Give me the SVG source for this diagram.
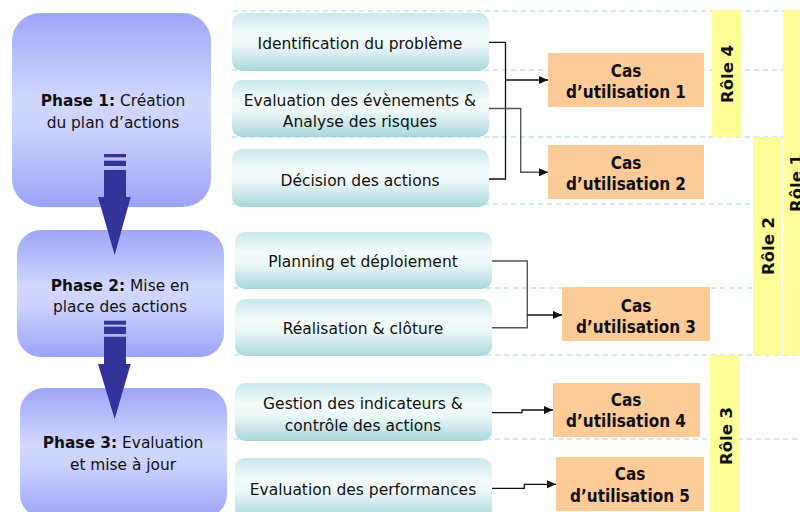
<svg xmlns="http://www.w3.org/2000/svg" width="800" height="512" viewBox="0 0 800 512">
<style>
.txt{font-family:"DejaVu Sans","Liberation Sans",sans-serif;fill:#111;text-anchor:middle;font-size:15.5px}
.ph{font-size:15.4px}
.b{font-weight:bold}
.cas{font-family:"DejaVu Sans Condensed","DejaVu Sans","Liberation Sans",sans-serif;font-stretch:condensed;font-weight:bold;fill:#111;text-anchor:middle;font-size:17px}
.role{font-family:"DejaVu Sans","Liberation Sans",sans-serif;font-weight:bold;fill:#111;text-anchor:middle;font-size:16.5px}
.lane{stroke:#a9d8de;stroke-width:1.2;stroke-dasharray:5,4;fill:none}
.step{fill:url(#teal)}
.phase{fill:url(#blue)}
.uc{fill:#fdcb98}
.bar{fill:#ffff99}
.con{stroke:#111;stroke-width:1.3;fill:none}
.con2{stroke:#555;stroke-width:1.4;fill:none}
.big{fill:#333399}
</style>
<defs>
<linearGradient id="blue" x1="0" y1="0" x2="0" y2="1">
<stop offset="0" stop-color="#9ea6f7"/>
<stop offset="0.45" stop-color="#d2d8fe"/>
<stop offset="0.6" stop-color="#ccd2fd"/>
<stop offset="1" stop-color="#9ba3f6"/>
</linearGradient>
<linearGradient id="teal" x1="0" y1="0" x2="0" y2="1">
<stop offset="0" stop-color="#cae8ea"/>
<stop offset="0.35" stop-color="#f3fafa"/>
<stop offset="0.55" stop-color="#eef8f8"/>
<stop offset="1" stop-color="#a9d7db"/>
</linearGradient>
<marker id="ah" markerWidth="9" markerHeight="8" refX="9" refY="4" orient="auto" markerUnits="userSpaceOnUse">
<path d="M0,0 L9,4 L0,8 z" fill="#111"/>
</marker>
</defs>
<rect width="800" height="512" fill="#fff"/>

<g id="lanes">
<line class="lane" x1="233" y1="11" x2="800" y2="11"/>
<line class="lane" x1="232" y1="70" x2="783" y2="70"/>
<line class="lane" x1="232" y1="137" x2="783" y2="137"/>
<line class="lane" x1="232" y1="204" x2="753" y2="204"/>
<line class="lane" x1="234" y1="288" x2="753" y2="288"/>
<line class="lane" x1="234" y1="355" x2="800" y2="355"/>
<line class="lane" x1="234" y1="439" x2="800" y2="439"/>
</g>

<g id="roles">
<g id="role4"><rect class="bar" x="712" y="10" width="29" height="127"/>
<text class="role" transform="translate(733,74) rotate(-90)">Rôle 4</text></g>
<g id="role1"><rect class="bar" x="783" y="10" width="30" height="345"/>
<text class="role" transform="translate(802,183) rotate(-90)">Rôle 1</text></g>
<g id="role2"><rect class="bar" x="753" y="137" width="28.5" height="218"/>
<text class="role" transform="translate(774,246) rotate(-90)">Rôle 2</text></g>
<g id="role3"><rect class="bar" x="710" y="355" width="29" height="162"/>
<text class="role" transform="translate(731.5,436) rotate(-90)">Rôle 3</text></g>
</g>

<g id="phase1"><rect class="phase" x="12" y="13" width="199" height="194" rx="28"/>
<text class="txt ph" x="113" y="106"><tspan class="b">Phase 1:</tspan> Création</text>
<text class="txt ph" x="113" y="128">du plan d’actions</text></g>
<g id="phase2"><rect class="phase" x="17" y="230" width="207" height="127" rx="24"/>
<text class="txt ph" x="120" y="291"><tspan class="b">Phase 2:</tspan> Mise en</text>
<text class="txt ph" x="120" y="312">place des actions</text></g>
<g id="phase3"><rect class="phase" x="20" y="388" width="207" height="130" rx="24"/>
<text class="txt ph" x="123" y="448"><tspan class="b">Phase 3:</tspan> Evaluation</text>
<text class="txt ph" x="123" y="470">et mise à jour</text></g>

<g id="arrow1">
<rect class="big" x="104" y="154" width="22" height="3.3"/>
<rect class="big" x="104" y="160.7" width="22" height="5.3"/>
<path class="big" d="M104,170 H126 V197 H130.7 L114.7,255 L98,197 H104 z"/>
</g>
<g id="arrow2">
<rect class="big" x="104" y="320.7" width="22" height="4"/>
<rect class="big" x="104" y="326.7" width="22" height="7.3"/>
<path class="big" d="M104,336.7 H126 V364 H130.7 L114.7,419 L98,364 H104 z"/>
</g>

<g id="step1"><rect class="step" x="232" y="13" width="257" height="58" rx="10"/>
<text class="txt" x="360" y="49">Identification du problème</text></g>
<g id="step2"><rect class="step" x="232" y="80" width="257" height="57" rx="10"/>
<text class="txt" x="360" y="106">Evaluation des évènements &amp;</text>
<text class="txt" x="360" y="127">Analyse des risques</text></g>
<g id="step3"><rect class="step" x="232" y="149" width="257" height="58" rx="10"/>
<text class="txt" x="360" y="186">Décision des actions</text></g>
<g id="step4"><rect class="step" x="235" y="232" width="257" height="57" rx="10"/>
<text class="txt" x="363" y="267">Planning et déploiement</text></g>
<g id="step5"><rect class="step" x="235" y="299" width="257" height="57" rx="10"/>
<text class="txt" x="363" y="334">Réalisation &amp; clôture</text></g>
<g id="step6"><rect class="step" x="235" y="383" width="257" height="58" rx="10"/>
<text class="txt" x="363" y="409">Gestion des indicateurs &amp;</text>
<text class="txt" x="363" y="431">contrôle des actions</text></g>
<g id="step7"><rect class="step" x="235" y="458" width="257" height="60" rx="10"/>
<text class="txt" x="363" y="495">Evaluation des performances</text></g>

<g id="uc1"><rect class="uc" x="548" y="53" width="156" height="54"/>
<text class="cas" x="626" y="77">Cas</text><text class="cas" x="626" y="98">d’utilisation 1</text></g>
<g id="uc2"><rect class="uc" x="548" y="145" width="156" height="54"/>
<text class="cas" x="626" y="169">Cas</text><text class="cas" x="626" y="190">d’utilisation 2</text></g>
<g id="uc3"><rect class="uc" x="562" y="287" width="148" height="54"/>
<text class="cas" x="636" y="312">Cas</text><text class="cas" x="636" y="333">d’utilisation 3</text></g>
<g id="uc4"><rect class="uc" x="553" y="383" width="147" height="54"/>
<text class="cas" x="626" y="406">Cas</text><text class="cas" x="626" y="427">d’utilisation 4</text></g>
<g id="uc5"><rect class="uc" x="556" y="457" width="148" height="54"/>
<text class="cas" x="630" y="480">Cas</text><text class="cas" x="630" y="502">d’utilisation 5</text></g>

<g id="connectors">
<path class="con" d="M489,42.3 H505.5 V179 H489"/>
<path class="con" d="M505.5,80 H548" marker-end="url(#ah)"/>
<path class="con2" d="M489,108.5 H520.7 V172.3 H548" marker-end="url(#ah)"/>
<path class="con2" d="M492,261 H527.3 V327.7 H492"/>
<path class="con" d="M527.3,315 H562" marker-end="url(#ah)"/>
<path class="con" d="M492,412.7 H522 V410 H553" marker-end="url(#ah)"/>
<path class="con" d="M492,488.3 H524.3 V484.3 H556" marker-end="url(#ah)"/>
</g>
</svg>
